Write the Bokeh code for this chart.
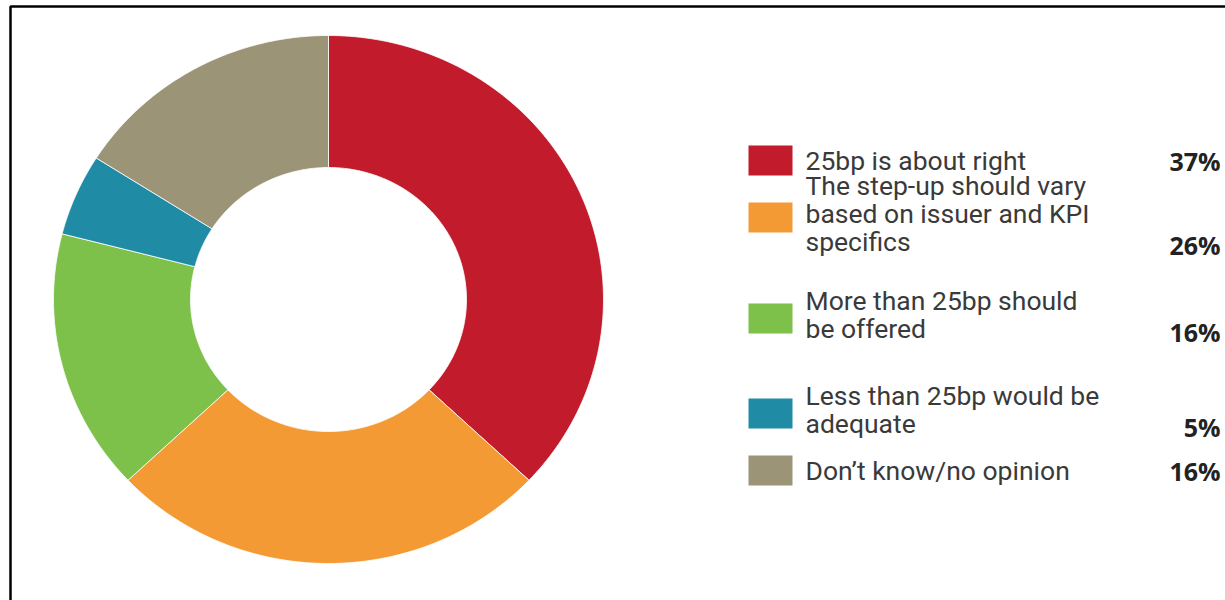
import numpy as np
from bokeh.plotting import figure
from bokeh.models import Range1d
from bokeh.core.properties import value
from bokeh.embed import file_html
from bokeh.resources import INLINE

# ---- data ----
categories = [
    "25bp is about right",
    "The step-up should vary\nbased on issuer and KPI\nspecifics",
    "More than 25bp should\nbe offered",
    "Less than 25bp would be\nadequate",
    "Don\u2019t know/no opinion",
]
shares = [37, 26, 16, 5, 16]
pct_labels = ["37%", "26%", "16%", "5%", "16%"]
colors = ["#C21B2C", "#F49A34", "#7DC04A", "#1F8BA5", "#9B9477"]

# ---- layout (canvas-pixel-like coordinates, y downward) ----
W, H = 1225, 600
CX, CY = 328, 299
RX, RY = 275, 264
IRX, IRY = 138, 132
row_first_y = [160, 185, 300, 395, 470]
LINE_STEP = 28
SQ_X0, SQ_W, SQ_H = 748, 44, 30
TXT_X = 805
PCT_X = 1220
FONT = "Roboto"

p = figure(width=W, height=H, x_range=Range1d(0, W), y_range=Range1d(H, 0),
           output_backend="svg", toolbar_location=None, min_border=0)
p.axis.visible = False
p.grid.visible = False
p.outline_line_color = None
p.background_fill_color = "white"
p.border_fill_color = "white"

# donut slices (clockwise from 12 o'clock)
total = float(sum(shares))
xs, ys = [], []
cum = 0.0
for s in shares:
    a0 = np.pi / 2 - 2 * np.pi * cum / total
    a1 = np.pi / 2 - 2 * np.pi * (cum + s) / total
    t = np.linspace(a0, a1, 120)
    ox = CX + RX * np.cos(t)
    oy = CY - RY * np.sin(t)
    ix = CX + IRX * np.cos(t[::-1])
    iy = CY - IRY * np.sin(t[::-1])
    xs.append(list(np.concatenate([ox, ix])))
    ys.append(list(np.concatenate([oy, iy])))
    cum += s
p.patches(xs, ys, fill_color=colors, line_color="white", line_width=0.8)

# legend
sq_l, sq_r, sq_t, sq_b = [], [], [], []
tx, ty, tt = [], [], []
px, py = [], []
for i, lab in enumerate(categories):
    lines = lab.split("\n")
    y0 = row_first_y[i]
    for j, ln in enumerate(lines):
        tx.append(TXT_X)
        ty.append(y0 + j * LINE_STEP)
        tt.append(ln)
    ymid = y0 + (len(lines) - 1) * LINE_STEP / 2
    if len(lines) > 1:
        ymid += 4
    sq_l.append(SQ_X0); sq_r.append(SQ_X0 + SQ_W)
    sq_t.append(ymid - SQ_H / 2); sq_b.append(ymid + SQ_H / 2)
    px.append(PCT_X)
    py.append(y0 + (len(lines) - 1) * LINE_STEP + (3 if len(lines) > 1 else 0))

p.quad(left=sq_l, right=sq_r, top=sq_t, bottom=sq_b, fill_color=colors, line_color=None)
p.text(x=tx, y=ty, text=tt, text_font=value(FONT), text_font_size="26.5px",
       text_color="#3a3a3a", text_baseline="middle", text_align="left")
p.text(x=px, y=py, text=pct_labels, text_font=value("Open Sans"), text_font_size="25px",
       text_font_style="bold", text_color="#222222", text_baseline="middle", text_align="right")

# frame lines (top and left edges of the original picture border)
p.line([10, 10, W], [H, 6, 6], line_color="black", line_width=2.5)

open("out.html", "w").write(file_html(p, INLINE))
